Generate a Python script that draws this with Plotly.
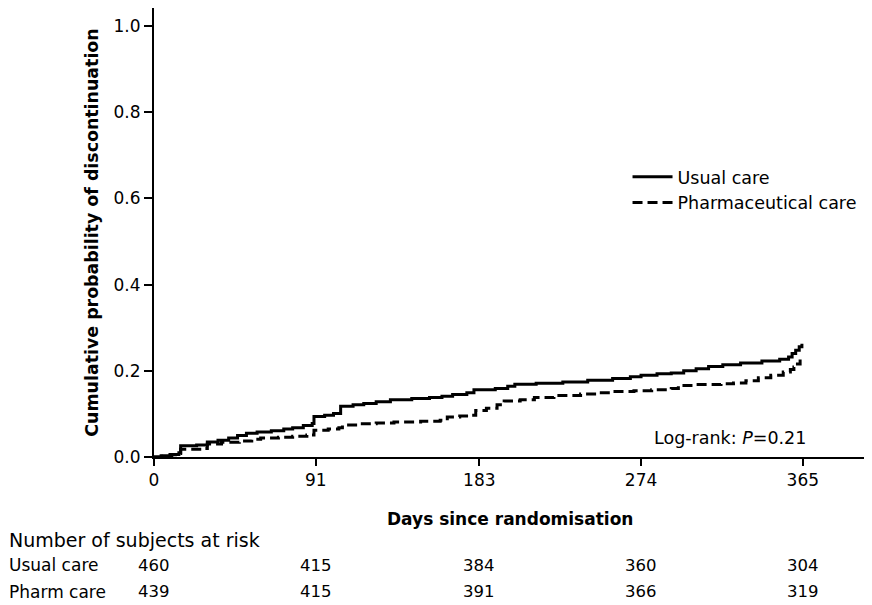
import plotly.graph_objects as go

# ---- data ----
usual_days = [0, 4, 9, 14, 15, 24, 30, 36, 42, 47, 52, 58, 66, 73, 78, 84, 89, 90, 96, 101,
              105, 112, 118, 125, 133, 145, 155, 162, 168, 176, 180, 192, 199, 203, 215, 230,
              244, 258, 268, 274, 283, 291, 298, 305, 312, 320, 330, 342, 352, 357, 359, 361,
              363, 364.5]
usual_prob = [0, 0.003, 0.006, 0.010, 0.026, 0.028, 0.035, 0.039, 0.044, 0.050, 0.055, 0.058,
              0.061, 0.065, 0.068, 0.073, 0.078, 0.094, 0.097, 0.101, 0.118, 0.121, 0.124, 0.128,
              0.133, 0.136, 0.138, 0.141, 0.145, 0.149, 0.156, 0.159, 0.164, 0.169, 0.171, 0.174,
              0.178, 0.182, 0.186, 0.190, 0.193, 0.195, 0.200, 0.205, 0.210, 0.214, 0.218, 0.223,
              0.227, 0.232, 0.240, 0.248, 0.256, 0.263]

pharm_days = [0, 5, 10, 14, 15, 27, 30, 38, 48, 55, 60, 70, 78, 86, 90, 98, 104, 106, 115, 125,
              135, 150, 161, 165, 172, 178, 181, 187, 193, 197, 206, 214, 225, 240, 250, 258,
              270, 280, 291, 295, 305, 319, 326, 333, 340, 347, 354, 358, 360, 362, 363.5]
pharm_prob = [0, 0.002, 0.005, 0.008, 0.018, 0.020, 0.030, 0.034, 0.037, 0.041, 0.044, 0.046,
              0.048, 0.051, 0.062, 0.065, 0.068, 0.074, 0.077, 0.079, 0.081, 0.083, 0.085, 0.093,
              0.095, 0.097, 0.108, 0.113, 0.121, 0.130, 0.133, 0.138, 0.143, 0.146, 0.149, 0.152,
              0.154, 0.156, 0.159, 0.166, 0.168, 0.170, 0.172, 0.177, 0.184, 0.190, 0.197, 0.203,
              0.209, 0.216, 0.226]

x_ticks = [0, 91, 183, 274, 365]
y_ticks = [0.0, 0.2, 0.4, 0.6, 0.8, 1.0]
y_ticklabels = ["0.0", "0.2", "0.4", "0.6", "0.8", "1.0"]

risk_groups = ["Usual care", "Pharm care"]
risk_usual = [460, 415, 384, 360, 304]
risk_pharm = [439, 415, 391, 366, 319]

series_names = ["Usual care", "Pharmaceutical care"]
logrank_text = "Log-rank: <i>P</i>=0.21"

FONT = "DejaVu Sans"

fig = go.Figure()
fig.add_trace(go.Scatter(x=usual_days, y=usual_prob, mode="lines", line_shape="hv",
                         name=series_names[0],
                         line=dict(color="black", width=3)))
fig.add_trace(go.Scatter(x=pharm_days, y=pharm_prob, mode="lines", line_shape="hv",
                         name=series_names[1],
                         line=dict(color="black", width=3, dash="10px,5px")))

annotations = []
annotations.append(dict(text="<b>Days since randomisation</b>", xref="paper", yref="paper",
                        x=0.5, y=-0.137, showarrow=False,
                        font=dict(size=17, family=FONT, color="black"),
                        xanchor="center", yanchor="middle"))
annotations.append(dict(text="Number of subjects at risk", xref="paper", yref="paper",
                        x=-0.207, y=-0.185, showarrow=False, xanchor="left", yanchor="middle",
                        font=dict(size=19, family=FONT, color="black")))
row_y = [-0.241, -0.300]
for gi, (grp, vals) in enumerate(zip(risk_groups, [risk_usual, risk_pharm])):
    annotations.append(dict(text=grp, xref="paper", yref="paper", x=-0.207, y=row_y[gi],
                            showarrow=False, xanchor="left", yanchor="middle",
                            font=dict(size=17, family=FONT, color="black")))
    for d, v in zip(x_ticks, vals):
        annotations.append(dict(text=str(v), xref="x", yref="paper", x=d, y=row_y[gi],
                                showarrow=False, xanchor="center", yanchor="middle",
                                font=dict(size=16.5, family=FONT, color="black")))
annotations.append(dict(text=logrank_text, xref="paper", yref="paper", x=0.92, y=0.042,
                        showarrow=False, xanchor="right", yanchor="middle",
                        font=dict(size=17.5, family=FONT, color="black")))

fig.update_layout(
    width=864, height=597,
    margin=dict(l=146, r=7, t=0, b=148),
    paper_bgcolor="white", plot_bgcolor="white",
    font=dict(family=FONT, size=17, color="black"),
    showlegend=True,
    legend=dict(x=0.666, y=0.664, xanchor="left", yanchor="top",
                bgcolor="rgba(0,0,0,0)", font=dict(size=17.5, family=FONT),
                tracegroupgap=0, itemwidth=40),
    xaxis=dict(range=[0, 400], tickvals=x_ticks, showline=True, linecolor="black",
               linewidth=2, ticks="outside", ticklen=7, tickwidth=1.5, tickcolor="black",
               showgrid=False, zeroline=False, tickfont=dict(size=17)),
    yaxis=dict(range=[0, 1.042], tickvals=y_ticks, ticktext=y_ticklabels, showline=True,
               linecolor="black", linewidth=2, ticks="outside", ticklen=8, tickwidth=1.5,
               tickcolor="black", showgrid=False, zeroline=False, tickfont=dict(size=17),
               title=dict(text="<b>Cumulative probability of discontinuation</b>",
                          font=dict(size=17.4), standoff=10)),
    annotations=annotations,
)

fig.write_html("out.html")
